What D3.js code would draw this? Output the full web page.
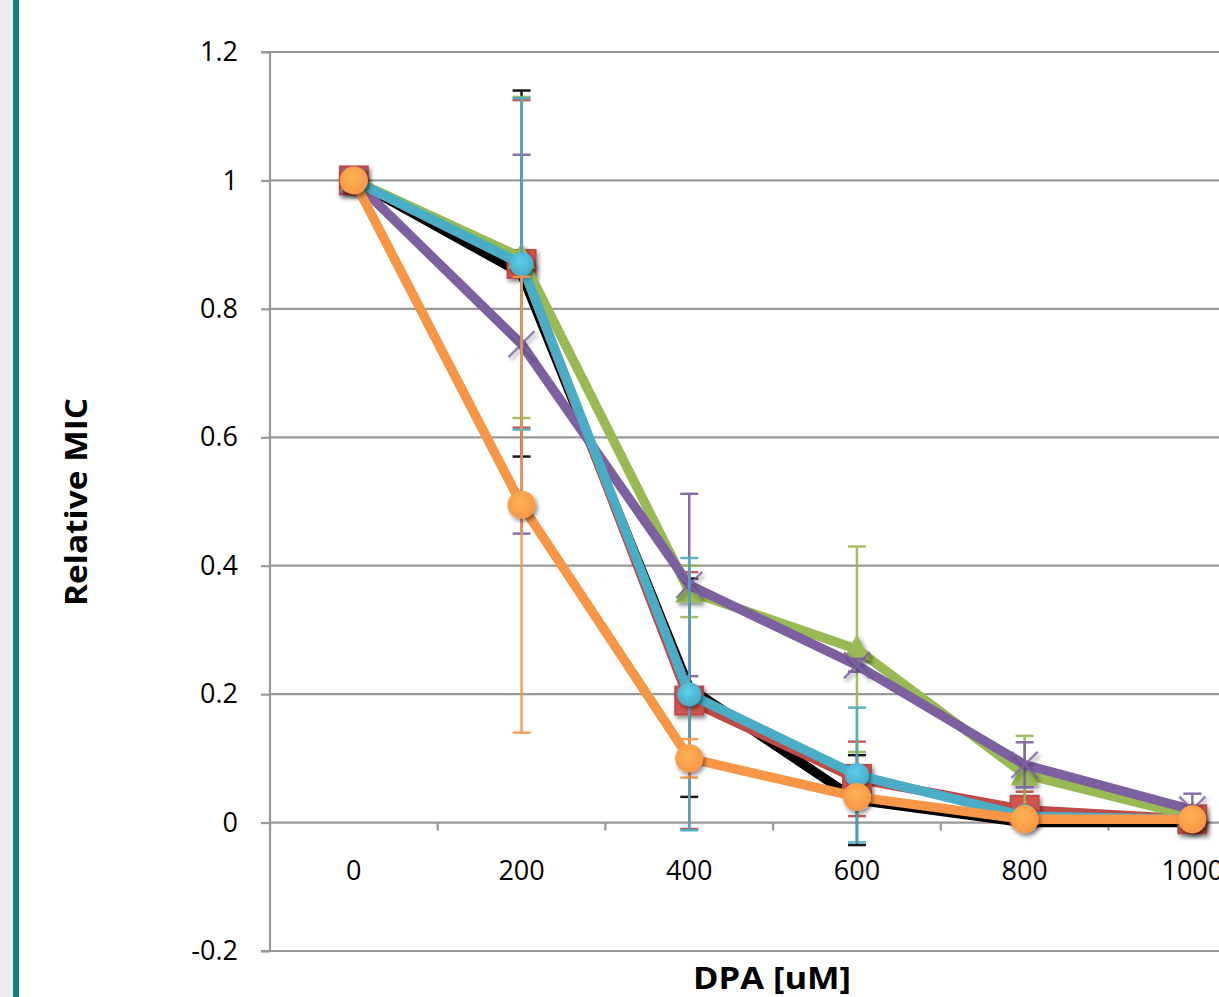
<!DOCTYPE html>
<html><head><meta charset="utf-8">
<script src="https://cdn.jsdelivr.net/npm/d3@7"></script>
<style>html,body{margin:0;padding:0;background:#fff;overflow:hidden}svg{display:block}</style>
</head><body>
<script>
const categories = ["0","200","400","600","800","1000"];
const yTicks = [-0.2,0,0.2,0.4,0.6,0.8,1,1.2];
const sBlack  = [1, 0.855, 0.21, 0.035, 0, 0];
const eBlack  = [0, 0.285, 0.17, 0.07, 0, 0];
const sRed    = [1, 0.87, 0.19, 0.068, 0.02, 0.005];
const eRed    = [0, 0.255, 0.2, 0.058, 0.028, 0];
const sGreen  = [1, 0.88, 0.36, 0.27, 0.075, 0.01];
const eGreen  = [0, 0.25, 0.04, 0.16, 0.06, 0];
const sPurple = [1, 0.745, 0.37, 0.245, 0.09, 0.02];
const ePurple = [0, 0.295, 0.142, 0.01, 0.035, 0.025];
const sCyan   = [1, 0.87, 0.2, 0.074, 0.01, 0.005];
const eCyan   = [0, 0.258, 0.212, 0.105, 0.01, 0];
const sOrange = [1, 0.495, 0.1, 0.04, 0.005, 0.005];
const eOrange = [0, 0.355, 0.03, 0.01, 0, 0];

const series = [
  {vals:sBlack,  err:eBlack,  color:"#000000", marker:"none"},
  {vals:sRed,    err:eRed,    color:"#BE4B48", marker:"square"},
  {vals:sGreen,  err:eGreen,  color:"#98B954", marker:"triangle"},
  {vals:sPurple, err:ePurple, color:"#7D60A0", marker:"x"},
  {vals:sCyan,   err:eCyan,   color:"#4BACC6", marker:"circle"},
  {vals:sOrange, err:eOrange, color:"#F79646", marker:"circle"}
];

const W=1219,H=997;
const svg=d3.select("body").append("svg").attr("width",W).attr("height",H);
const defs=svg.append("defs");
const f=defs.append("filter").attr("id","sh").attr("x","-50%").attr("y","-50%").attr("width","200%").attr("height","200%");
f.append("feDropShadow").attr("dx",2).attr("dy",3).attr("stdDeviation",2).attr("flood-color","#000").attr("flood-opacity",0.45);
function grad(id,c){
  const g=defs.append("radialGradient").attr("id",id).attr("cx","45%").attr("cy","40%").attr("r","60%");
  g.append("stop").attr("offset","0%").attr("stop-color",d3.color(c).brighter(0.5));
  g.append("stop").attr("offset","100%").attr("stop-color",c);
}
series.forEach((s,i)=>grad("g"+i,s.color));

// left decoration
svg.append("rect").attr("x",0).attr("y",0).attr("width",13).attr("height",H).attr("fill","#ececec");
svg.append("rect").attr("x",13).attr("y",0).attr("width",6).attr("height",H).attr("fill","#0f808b");

const left=270, band=167.7;
const x=d3.scaleBand().domain(categories).range([left,left+band*categories.length]).padding(0);
const cx=c=>x(c)+x.bandwidth()/2;
const y=d3.scaleLinear().domain([-0.2,1.2]).range([951,52]);
const font="'Open Sans', 'Liberation Sans', sans-serif";

// gridlines
svg.append("g").selectAll("line").data(yTicks).join("line")
  .attr("x1",left).attr("x2",W+60).attr("y1",d=>y(d)).attr("y2",d=>y(d))
  .attr("stroke","#999").attr("stroke-width",2.2);

// y axis
const yAxis=d3.axisLeft(y).tickValues(yTicks).tickSize(9).tickPadding(23)
  .tickFormat(d=>Math.abs(d)<1e-9?"0":String(+d.toFixed(1)));
const gy=svg.append("g").attr("transform",`translate(${left},0)`).call(yAxis);
gy.select(".domain").attr("stroke","#999").attr("stroke-width",2.2).attr("d",`M-9,${y(1.2)}H0V${y(-0.2)}H-9`);
gy.selectAll(".tick line").attr("stroke","#999").attr("stroke-width",2.2);
gy.selectAll("text").attr("font-family",font).attr("font-size",27).attr("fill","#000");

// x axis at zero
const boundaries=categories.map(c=>x(c)).concat([x(categories[categories.length-1])+band]);
svg.append("g").selectAll("line").data(boundaries).join("line")
  .attr("x1",d=>d).attr("x2",d=>d).attr("y1",y(0)).attr("y2",y(0)+8)
  .attr("stroke","#999").attr("stroke-width",2.2);
svg.append("g").selectAll("text").data(categories).join("text")
  .attr("x",d=>cx(d)).attr("y",880).attr("text-anchor","middle")
  .attr("font-family",font).attr("font-size",27).attr("fill","#000").text(d=>d);

// titles
svg.append("text").attr("x",772).attr("y",989).attr("text-anchor","middle")
  .attr("font-family",font).attr("font-weight","bold").attr("font-size",31)
  .attr("textLength",158).attr("lengthAdjust","spacingAndGlyphs").text("DPA [uM]");
svg.append("text").attr("transform","translate(87,502) rotate(-90)").attr("text-anchor","middle")
  .attr("font-family",font).attr("font-weight","bold").attr("font-size",30)
  .attr("textLength",208).attr("lengthAdjust","spacingAndGlyphs").text("Relative MIC");

const line=d3.line().x((d,i)=>cx(categories[i])).y(d=>y(d));

series.forEach((s,si)=>{
  const g=svg.append("g");
  g.append("path").attr("d",line(s.vals)).attr("fill","none").attr("stroke",s.color)
    .attr("stroke-width",9.5).attr("stroke-linejoin","round");
  // error bars
  s.vals.forEach((v,i)=>{
    const e=s.err[i]; if(!e) return;
    const px=cx(categories[i]);
    const eb=g.append("g").attr("stroke",s.color).attr("stroke-width",2.5).attr("opacity",0.9);
    eb.append("line").attr("x1",px).attr("x2",px).attr("y1",y(v+e)).attr("y2",y(v-e));
    eb.append("line").attr("x1",px-9).attr("x2",px+9).attr("y1",y(v+e)).attr("y2",y(v+e));
    eb.append("line").attr("x1",px-9).attr("x2",px+9).attr("y1",y(v-e)).attr("y2",y(v-e));
  });
  // markers
  s.vals.forEach((v,i)=>{
    const px=cx(categories[i]), py=y(v);
    if(s.marker==="square"){
      g.append("rect").attr("x",px-14).attr("y",py-14).attr("width",28).attr("height",28)
        .attr("fill",d3.color(s.color).brighter(0.3)).attr("stroke",s.color).attr("stroke-width",2).attr("filter","url(#sh)");
    } else if(s.marker==="triangle"){
      g.append("path").attr("d",`M${px},${py-15}L${px+14},${py+11}L${px-14},${py+11}Z`)
        .attr("fill",s.color).attr("filter","url(#sh)");
    } else if(s.marker==="x"){
      g.append("path").attr("d",`M${px-13},${py-13}L${px+13},${py+13}M${px-13},${py+13}L${px+13},${py-13}`)
        .attr("stroke",s.color).attr("stroke-width",2.5).attr("opacity",0.8).attr("filter","url(#sh)");
    } else if(s.marker==="circle"){
      g.append("circle").attr("cx",px).attr("cy",py).attr("r",si===5?14:12)
        .attr("fill",`url(#g${si})`).attr("filter","url(#sh)");
    }
  });
});
</script>
</body></html>
